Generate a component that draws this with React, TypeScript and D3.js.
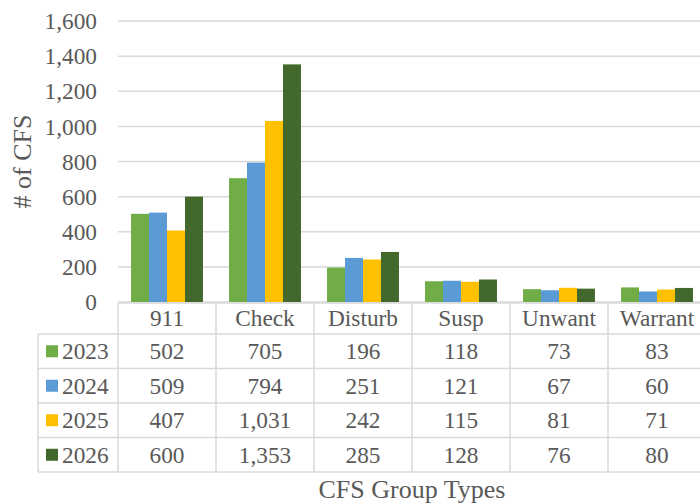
import React from "react";
import * as d3 from "d3";

const categories = ["911", "Check", "Disturb", "Susp", "Unwant", "Warrant"];
const seriesNames = ["2023", "2024", "2025", "2026"];
const values2023 = [502, 705, 196, 118, 73, 83];
const values2024 = [509, 794, 251, 121, 67, 60];
const values2025 = [407, 1031, 242, 115, 81, 71];
const values2026 = [600, 1353, 285, 128, 76, 80];
const seriesColors = ["#70AD47", "#5B9BD5", "#FFC000", "#43682B"];
const yTicks = [0, 200, 400, 600, 800, 1000, 1200, 1400, 1600];
const yTitle = "# of CFS";
const xTitle = "CFS Group Types";

const seriesValues = [values2023, values2024, values2025, values2026];

const W = 700;
const H = 504;
const plotLeft = 118;
const plotRight = 706;
const plotTop = 21;
const plotBottom = 302;
const legendLeft = 38;
const headerBottom = 334;
const rowH = 34.5;
const textColor = "#595959";
const lineColor = "#D9D9D9";
const font = "'Liberation Serif', 'Times New Roman', serif";
const fs = 23.3;

export default function App() {
  const y = d3.scaleLinear().domain([0, 1600]).range([plotBottom, plotTop]);
  const x = d3.scaleBand<string>().domain(categories).range([plotLeft, plotRight]).padding(0);
  const bw = x.bandwidth();
  const xs = d3
    .scaleBand<string>()
    .domain(seriesNames)
    .range([bw * 0.133, bw * 0.867])
    .padding(0);
  const fmt = d3.format(",");

  const rowTop = (i: number) => headerBottom + i * rowH;
  const tableBottom = rowTop(seriesNames.length);

  return (
    <svg
      width={W}
      height={H}
      style={{ position: "absolute", left: 0, top: 0, background: "#fff" }}
      fontFamily={font}
    >
      {yTicks.map((t) => (
        <line
          key={"g" + t}
          x1={plotLeft}
          x2={plotRight}
          y1={y(t)}
          y2={y(t)}
          stroke={lineColor}
          strokeWidth={1.5}
        />
      ))}
      {yTicks.map((t) => (
        <text
          key={"t" + t}
          x={97}
          y={y(t)}
          dy="0.35em"
          textAnchor="end"
          fontSize={fs}
          fill={textColor}
        >
          {fmt(t)}
        </text>
      ))}
      {categories.map((c, ci) => (
        <g key={c}>
          {seriesNames.map((s, si) => (
            <rect
              key={s}
              x={(x(c) as number) + (xs(s) as number)}
              y={y(seriesValues[si][ci])}
              width={xs.bandwidth()}
              height={plotBottom - y(seriesValues[si][ci])}
              fill={seriesColors[si]}
            />
          ))}
        </g>
      ))}
      <g stroke={lineColor} strokeWidth={1.5} fill="none">
        <line x1={plotLeft} x2={plotRight} y1={plotBottom + 1} y2={plotBottom + 1} />
        {seriesNames.map((s, i) => (
          <line key={"r" + s} x1={legendLeft} x2={plotRight} y1={rowTop(i)} y2={rowTop(i)} />
        ))}
        <line x1={legendLeft} x2={plotRight} y1={tableBottom} y2={tableBottom} />
        <line x1={legendLeft} x2={legendLeft} y1={rowTop(0)} y2={tableBottom} />
        {categories.map((c) => (
          <line
            key={"v" + c}
            x1={x(c) as number}
            x2={x(c) as number}
            y1={plotBottom + 1}
            y2={tableBottom}
          />
        ))}
        <line x1={plotRight} x2={plotRight} y1={plotBottom + 1} y2={tableBottom} />
      </g>
      {categories.map((c) => (
        <text
          key={"h" + c}
          x={(x(c) as number) + bw / 2}
          y={(plotBottom + headerBottom) / 2}
          dy="0.35em"
          textAnchor="middle"
          fontSize={fs}
          fill={textColor}
        >
          {c}
        </text>
      ))}
      {seriesNames.map((s, si) => (
        <g key={"row" + s}>
          <rect x={46} y={rowTop(si) + rowH / 2 - 6} width={12} height={12} fill={seriesColors[si]} />
          <text
            x={62}
            y={rowTop(si) + rowH / 2}
            dy="0.35em"
            fontSize={fs}
            fill={textColor}
          >
            {s}
          </text>
          {categories.map((c, ci) => (
            <text
              key={c}
              x={(x(c) as number) + bw / 2}
              y={rowTop(si) + rowH / 2}
              dy="0.35em"
              textAnchor="middle"
              fontSize={fs}
              fill={textColor}
            >
              {fmt(seriesValues[si][ci])}
            </text>
          ))}
        </g>
      ))}
      <text
        transform={`translate(22, ${(plotTop + plotBottom) / 2}) rotate(-90)`}
        dy="0.35em"
        textAnchor="middle"
        fontSize={26}
        fill={textColor}
      >
        {yTitle}
      </text>
      <text x={412} y={489} dy="0.35em" textAnchor="middle" fontSize={26} fill={textColor}>
        {xTitle}
      </text>
    </svg>
  );
}
